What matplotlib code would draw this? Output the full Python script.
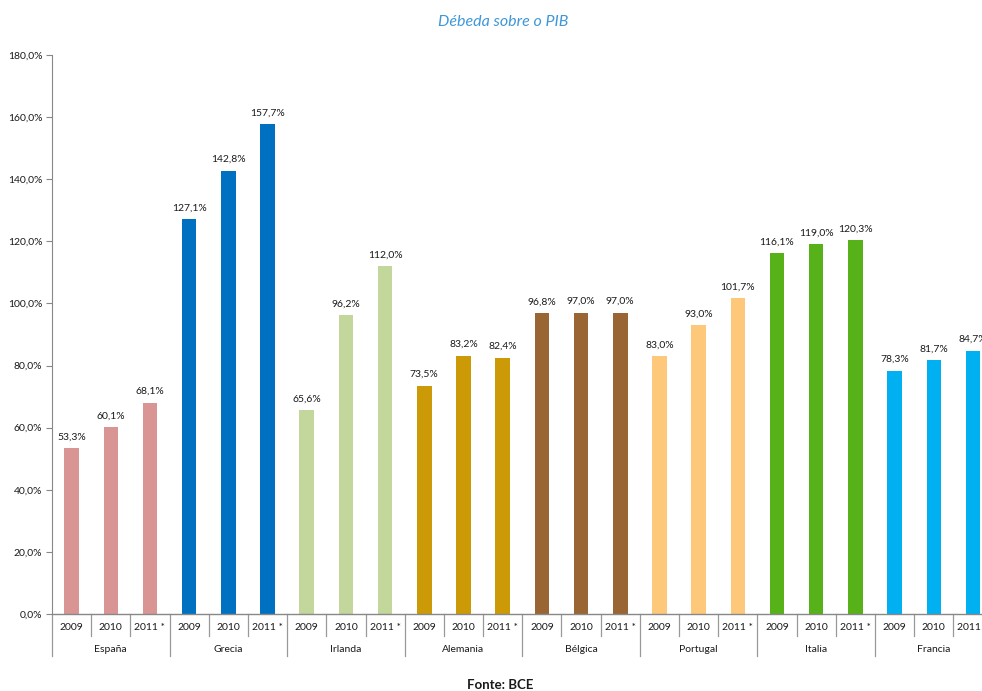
import matplotlib
matplotlib.use("Agg")
import matplotlib.pyplot as plt
from matplotlib.transforms import blended_transform_factory

countries = ["España", "Grecia", "Irlanda", "Alemania", "Bélgica", "Portugal", "Italia", "Francia"]
years = ["2009", "2010", "2011 *"]
values = {
    "España": [53.3, 60.1, 68.1],
    "Grecia": [127.1, 142.8, 157.7],
    "Irlanda": [65.6, 96.2, 112.0],
    "Alemania": [73.5, 83.2, 82.4],
    "Bélgica": [96.8, 97.0, 97.0],
    "Portugal": [83.0, 93.0, 101.7],
    "Italia": [116.1, 119.0, 120.3],
    "Francia": [78.3, 81.7, 84.7],
}
colors = {
    "España": "#d99594",
    "Grecia": "#0070c0",
    "Irlanda": "#c3d69b",
    "Alemania": "#cc9a06",
    "Bélgica": "#996633",
    "Portugal": "#fdc879",
    "Italia": "#57b118",
    "Francia": "#00b0f0",
}
yticks = [0, 20, 40, 60, 80, 100, 120, 140, 160, 180]

plt.rcParams['font.family'] = ['Lato', 'DejaVu Sans']
W, H = 982, 691
fig = plt.figure(figsize=(W / 100, H / 100), dpi=100)
left_px, right_px, zero_px, top_px = 52, 982, 614, 55
ax = fig.add_axes([left_px / W, (H - zero_px) / H, (right_px - left_px) / W, (zero_px - top_px) / H])

slot_px = 39.19
n_slots = len(countries) * len(years)
x_right = -0.5 + (right_px - left_px) / slot_px
fs = 7.5
tc = "#1a1a1a"

idx = 0
for c in countries:
    for j, y in enumerate(years):
        v = values[c][j]
        ax.bar(idx, v, width=0.37, color=colors[c], clip_on=True)
        label = f"{v:.1f}%".replace(".", ",")
        ax.annotate(label, (idx, v), xytext=(0, 5), textcoords="offset points",
                    ha="center", va="bottom", fontsize=fs, color=tc)
        idx += 1

ax.set_xlim(-0.5, x_right)
ax.set_ylim(0, 180)
ax.set_yticks(yticks)
ax.set_yticklabels([f"{t:.1f}%".replace(".", ",") for t in yticks], fontsize=fs, color=tc)
ax.tick_params(axis="y", length=4, width=0.8, color="#888888", pad=3)
ax.set_xticks([])
for s in ["top", "right"]:
    ax.spines[s].set_visible(False)
ax.spines["left"].set_color("#888888")
ax.spines["bottom"].set_color("#888888")
ax.spines["left"].set_linewidth(0.8)
ax.spines["bottom"].set_linewidth(1.0)

ah = zero_px - top_px
trans = blended_transform_factory(ax.transData, ax.transAxes)
for k in range(n_slots + 1):
    xs = k - 0.5
    if xs > x_right:
        continue
    length = 42 if k % 3 == 0 else 22
    ax.plot([xs, xs], [0, -length / ah], transform=trans, color="#999999",
            lw=0.9, clip_on=False)

idx = 0
for c in countries:
    for j, y in enumerate(years):
        ax.text(idx, -14 / ah, y, transform=trans, ha="center", va="center",
                fontsize=fs, color=tc, clip_on=False)
        idx += 1
    ax.text(idx - 2, -35 / ah, c, transform=trans, ha="center", va="center",
            fontsize=fs, color=tc, clip_on=False)

fig.text(503 / W, 1 - 22 / H, "Débeda sobre o PIB", ha="center", va="center",
         fontsize=11.5, style="italic", fontweight="normal", color="#3f97d8")
fig.text(500 / W, 1 - 685 / H, "Fonte: BCE", ha="center", va="center",
         fontsize=9.5, fontweight="bold", color="#1a1a1a")

fig.savefig("out.png", dpi=100)
